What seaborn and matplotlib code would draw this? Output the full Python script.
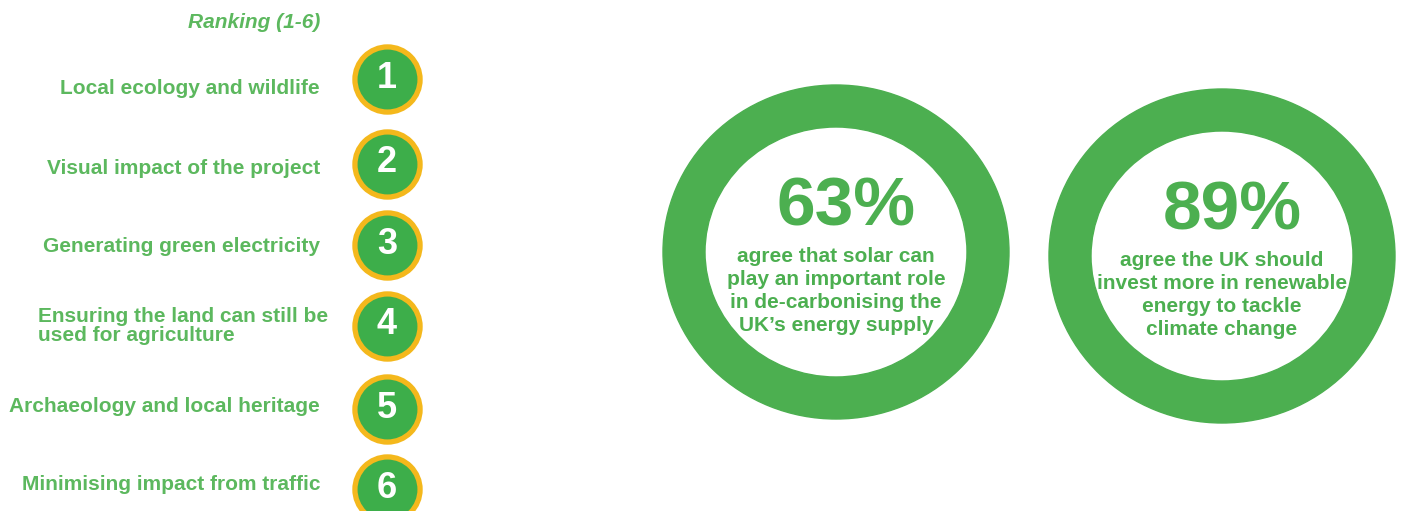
import matplotlib
matplotlib.use("Agg")
import matplotlib.pyplot as plt
from matplotlib.patches import Annulus
import seaborn as sns
import pandas as pd

# Data
factors = ["Local ecology and wildlife", "Visual impact of the project",
           "Generating green electricity",
           "Ensuring the land can still be\nused for agriculture",
           "Archaeology and local heritage", "Minimising impact from traffic"]
ranks = [1, 2, 3, 4, 5, 6]
percents = [63, 89]
statements = ["agree that solar can\nplay an important role\nin de-carbonising the\nUK\u2019s energy supply",
              "agree the UK should\ninvest more in renewable\nenergy to tackle\nclimate change"]

green = "#4caf50"
badge_green = "#3dae4a"
label_green = "#5cb85e"
yellow = "#f4b81c"

sns.set_theme(style="white")
plt.rcParams["font.family"] = ["Liberation Sans", "DejaVu Sans"]

fig = plt.figure(figsize=(14.03, 5.11), dpi=100)
ax = fig.add_axes([0, 0, 1, 1])
ax.set_xlim(0, 1403)
ax.set_ylim(511, 0)
ax.axis("off")

# Ranking badges and labels (layout in pixels)
badge_y = [79, 164, 245, 326, 409, 489]
label_y = [89, 168, 247, 326, 406, 485]
df = pd.DataFrame({"rank": ranks, "factor": factors, "x": 387, "y": badge_y})
sns.scatterplot(data=df, x="x", y="y", s=2200, color=badge_green,
                edgecolor=yellow, linewidth=3.8, ax=ax, legend=False, zorder=3)

for (_, row), ly in zip(df.iterrows(), label_y):
    ax.text(row["x"], row["y"] - 1, str(row["rank"]), color="white",
            fontsize=26, fontweight="bold", ha="center", va="center", zorder=4)
    if "\n" in row["factor"]:
        ax.text(38, ly, row["factor"], color=label_green, fontsize=15,
                fontweight="bold", ha="left", va="center", linespacing=1.0)
    else:
        ax.text(320, ly, row["factor"], color=label_green, fontsize=15,
                fontweight="bold", ha="right", va="center")

ax.text(320, 22, "Ranking (1-6)", color=label_green, fontsize=15,
        fontweight="bold", fontstyle="italic", ha="right", va="center")

# Rings with headline figures
ring_x = [836, 1222]
ring_y = [252, 256]
for cx, cy, pct, txt in zip(ring_x, ring_y, percents, statements):
    ax.add_patch(Annulus((cx, cy), (173, 167), 42, color=green))
    ax.text(cx + 10, cy - 44, f"{pct}%", color=green, fontsize=50,
            fontweight="bold", ha="center", va="center")
    ax.text(cx, cy + 39, txt, color=green, fontsize=15, fontweight="bold",
            ha="center", va="center", linespacing=1.25)

fig.savefig("out.png", dpi=100)
